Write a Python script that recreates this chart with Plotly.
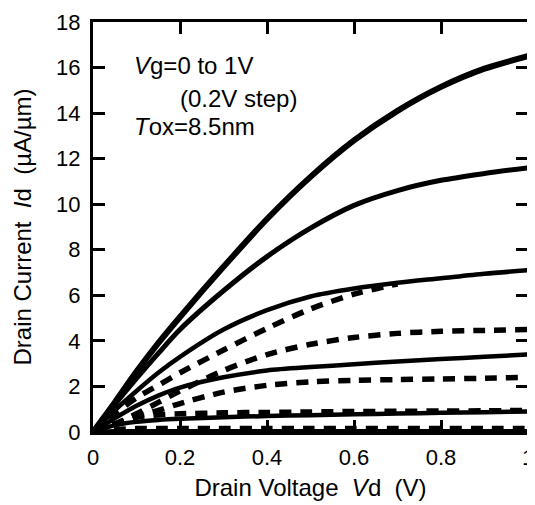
import plotly.graph_objects as go

# Drain voltage grid (V)
VD = [0, 0.05, 0.1, 0.15, 0.2, 0.3, 0.4, 0.5, 0.6, 0.7, 0.8, 0.9, 1.0]

# measured curves (solid), Vg = 1.0 ... 0 V, uA/um
ID_VG10 = [0, 1.3, 2.65, 3.9, 5.05, 7.25, 9.35, 11.2, 12.8, 14.1, 15.15, 15.95, 16.5]
ID_VG08 = [0, 1.2, 2.35, 3.45, 4.5, 6.2, 7.7, 8.95, 9.95, 10.6, 11.05, 11.35, 11.6]
ID_VG06 = [0, 0.95, 1.8, 2.6, 3.3, 4.5, 5.35, 5.95, 6.3, 6.55, 6.75, 6.95, 7.1]
ID_VG04 = [0, 0.6, 1.15, 1.6, 1.95, 2.4, 2.7, 2.85, 2.97, 3.1, 3.2, 3.3, 3.4]
ID_VG02 = [0, 0.3, 0.45, 0.53, 0.58, 0.65, 0.7, 0.74, 0.78, 0.81, 0.84, 0.87, 0.9]
ID_VG00 = [0, 0.03, 0.03, 0.03, 0.03, 0.03, 0.03, 0.03, 0.03, 0.03, 0.03, 0.03, 0.03]

# dashed curves
ID_D1 = [0, 0.8, 1.5, 2.05, 2.6, 3.6, 4.55, 5.4, 6.05, 6.5, None, None, None]
ID_D2 = [0, 0.35, 0.8, 1.3, 1.8, 2.7, 3.4, 3.85, 4.15, 4.33, 4.42, 4.46, 4.5]
ID_D3 = [0, 0.3, 0.7, 0.95, 1.25, 1.75, 2.05, 2.2, 2.27, 2.3, 2.33, 2.36, 2.4]
ID_D4 = [0, 0.35, 0.65, 0.75, 0.8, 0.84, 0.86, 0.88, 0.9, 0.91, 0.92, 0.93, 0.95]
ID_D5 = [0, 0.1, 0.15, 0.15, 0.15, 0.15, 0.15, 0.15, 0.15, 0.15, 0.15, 0.15, 0.15]

X_TICKS = [0, 0.2, 0.4, 0.6, 0.8, 1.0]
X_TICK_TEXT = ['0', '0.2', '0.4', '0.6', '0.8', '1']

FONT = 'Liberation Sans, Arial, sans-serif'

fig = go.Figure()

solid = [(ID_VG10, 6), (ID_VG08, 5), (ID_VG06, 4.5), (ID_VG04, 4.5), (ID_VG02, 4.5), (ID_VG00, 4.5)]
dashed = [ID_D1, ID_D2, ID_D3, ID_D4, ID_D5]

for ys in dashed:
    fig.add_trace(go.Scatter(
        x=VD, y=ys, mode='lines', line_shape='spline',
        line=dict(color='black', width=5.5, dash='12px,9px', smoothing=0.8),
        showlegend=False, hoverinfo='skip',
    ))

for ys, w in solid:
    fig.add_trace(go.Scatter(
        x=VD, y=ys, mode='lines', line_shape='spline',
        line=dict(color='black', width=w, smoothing=0.8),
        showlegend=False, hoverinfo='skip',
    ))

# text block
fig.add_annotation(x=0.09, y=16.1, xref='x', yref='y', text='<i>V</i>g=0 to 1V',
                   showarrow=False, xanchor='left', yanchor='middle')
fig.add_annotation(x=0.196, y=14.65, xref='x', yref='y', text='(0.2V step)',
                   showarrow=False, xanchor='left', yanchor='middle')
fig.add_annotation(x=0.09, y=13.4, xref='x', yref='y', text='<i>T</i>ox=8.5nm',
                   showarrow=False, xanchor='left', yanchor='middle')

axis_common = dict(
    showline=True, linecolor='black', linewidth=3, mirror='ticks',
    ticks='inside', ticklen=12, tickwidth=3, tickcolor='black',
    showgrid=False, zeroline=False, ticklabeloverflow='allow',
    tickfont=dict(size=22, color='black', family=FONT),
)

fig.update_xaxes(
    range=[0, 1], tickvals=X_TICKS, ticktext=X_TICK_TEXT, ticklabelstandoff=4,
    title=dict(text='Drain Voltage  <i>V</i>d  (V)', font=dict(size=24, color='black', family=FONT), standoff=10),
    **axis_common,
)
fig.update_yaxes(
    range=[0, 18], dtick=2, ticklabelstandoff=5,
    title=dict(text='Drain Current  <i>I</i>d  (µA/µm)', font=dict(size=24, color='black', family=FONT), standoff=18),
    **axis_common,
)

# page body has an 8px margin, so the figure is sized to the remaining area
fig.update_layout(
    width=527, height=497,
    margin=dict(l=85, r=1, t=14, b=73),
    plot_bgcolor='white', paper_bgcolor='white',
    font=dict(family=FONT, size=24, color='black'),
)

fig.write_html('out.html')
